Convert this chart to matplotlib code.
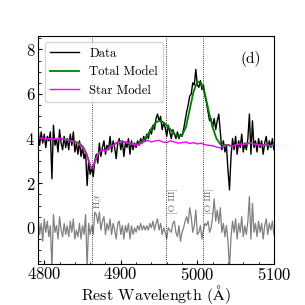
import numpy as np
import matplotlib
matplotlib.use("Agg")
import matplotlib.pyplot as plt
from matplotlib.ticker import AutoMinorLocator, MultipleLocator

plt.rcParams['font.family'] = ['cmr10', 'DejaVu Serif']
plt.rcParams['mathtext.fontset'] = 'cm'
plt.rcParams['axes.formatter.use_mathtext'] = True

# observed spectrum, 2 A grid from 4792 to 5100
wave = np.arange(4792, 5101, 2)
flux = [4.4, 3.7, 4.3, 3.8, 4.2, 3.6, 4.1, 3.9, 4.3, 2.2,
        4.6, 3.7, 4.0, 3.4, 4.4, 3.8, 3.5, 4.1, 3.6, 4.0,
        3.5, 4.2, 3.7, 4.3, 3.4, 3.8, 3.3, 3.9, 3.2, 3.6,
        3.1, 3.4, 1.9, 3.0, 2.4, 2.7, 2.3, 3.0, 3.3, 2.9,
        3.8, 3.2, 3.6, 3.9, 3.3, 3.7, 3.5, 4.1, 3.4, 3.9,
        3.6, 3.1, 3.8, 4.0, 3.5, 3.9, 3.2, 3.8, 3.6, 4.0,
        3.3, 3.9, 3.5, 3.8, 3.6, 3.9, 3.7, 4.0, 3.8, 4.1,
        3.9, 4.2, 4.0, 4.4, 4.2, 4.6, 4.4, 4.9, 5.1, 4.8,
        5.0, 4.4, 4.7, 4.5, 4.1, 4.6, 4.3, 4.0, 4.4, 4.2,
        4.0, 4.3, 4.0, 4.2, 4.1, 4.4, 4.8, 5.2, 5.5, 5.9,
        6.0, 6.5, 6.4, 7.1, 6.4, 6.3, 6.6, 6.2, 6.4, 5.9,
        5.6, 5.2, 4.8, 4.9, 4.5, 4.9, 4.4, 4.8, 5.1, 4.3,
        3.5, 3.9, 3.4, 3.7, 2.6, 1.7, 3.2, 4.0, 3.5, 4.1,
        3.3, 3.9, 3.6, 4.2, 3.4, 3.8, 3.5, 4.0, 5.1, 3.3,
        4.8, 3.6, 3.9, 3.4, 4.0, 3.6, 3.9, 3.3, 3.8, 4.1,
        3.5, 3.9, 3.6, 4.0, 3.5]
resid = [0.5, -0.3, 0.2, -0.6, 0.4, -0.2, 0.3, -0.4, 0.1, -1.8,
         0.6, -0.2, 0.1, -0.5, 0.5, -0.1, -0.4, 0.2, -0.3, 0.1,
         -0.4, 0.3, -0.2, 0.4, -0.5, -0.1, -0.4, 0.2, -0.5, 0.1,
         -0.3, 0.6, -1.8, 0.2, -0.3, 0.1, -0.3, 0.7, 0.6, 0.2,
         0.7, -0.1, 0.3, 0.5, -0.3, 0.2, -0.1, 0.4, -0.3, 0.2,
         -0.1, -0.5, 0.2, 0.3, -0.3, 0.1, -0.5, 0.1, -0.2, 0.2,
         -0.5, 0.1, -0.3, 0.0, -0.2, 0.1, -0.1, 0.2, -0.1, 0.1,
         -0.1, 0.1, -0.1, 0.2, 0.0, 0.3, -0.1, 0.2, 0.4, -0.1,
         0.2, -0.3, 0.0, -0.2, -0.5, 0.0, -0.1, -0.2, 0.2, 0.3,
         -0.2, -0.4, 0.1, -0.6, -0.2, 0.0, 0.3, 0.5, 0.2, 0.9,
         0.5, -0.2, 0.1, 0.8, -0.3, -0.2, 0.1, -0.5, -0.1, 0.2,
         0.1, 0.3, -0.2, 0.0, 0.5, 1.3, 0.3, 0.8, 0.2, 0.9,
         -0.2, 0.2, -0.4, 0.1, -0.6, -1.8, -0.4, 0.3, -0.2, 0.4,
         -0.5, 0.2, -0.2, 0.5, -0.4, 0.1, -0.3, 0.3, 1.4, -0.5,
         1.1, -0.2, 0.2, -0.4, 0.3, -0.2, 0.2, -0.5, 0.1, 0.4,
         -0.3, 0.2, -0.1, 0.3, -0.3]

# model curves
model_wave = [4792, 4800, 4810, 4820, 4830, 4840, 4845, 4850, 4855, 4858,
              4861, 4863, 4866, 4870, 4875, 4880, 4885, 4890, 4895, 4900,
              4905, 4910, 4915, 4920, 4925, 4930, 4935, 4940, 4945, 4950,
              4955, 4960, 4965, 4970, 4975, 4980, 4985, 4990, 4995, 5000,
              5005, 5010, 5015, 5020, 5025, 5030, 5035, 5040, 5045, 5050,
              5055, 5060, 5065, 5070, 5075, 5080, 5085, 5090, 5095, 5100]
star = [4.02, 4.0, 3.98, 4.0, 3.95, 3.85, 3.75, 3.6, 3.3, 3.0,
        2.7, 2.68, 2.95, 3.3, 3.5, 3.45, 3.6, 3.7, 3.82, 3.88,
        3.85, 3.8, 3.75, 3.7, 3.75, 3.85, 3.92, 3.85, 3.9, 3.92,
        3.85, 3.82, 3.9, 3.85, 3.8, 3.82, 3.85, 3.78, 3.82, 3.76,
        3.8, 3.72, 3.7, 3.68, 3.62, 3.58, 3.68, 3.72, 3.65, 3.72,
        3.75, 3.73, 3.78, 3.8, 3.75, 3.72, 3.7, 3.72, 3.68, 3.70]
total = [4.02, 4.0, 3.98, 4.0, 3.95, 3.87, 3.8, 3.66, 3.35, 3.02,
         2.7, 2.68, 2.95, 3.3, 3.5, 3.45, 3.6, 3.7, 3.82, 3.88,
         3.85, 3.8, 3.75, 3.72, 3.8, 3.95, 4.15, 4.45, 4.7, 4.8,
         4.75, 4.6, 4.4, 4.2, 4.1, 4.15, 4.5, 5.3, 6.1, 6.55,
         6.5, 6.0, 5.2, 4.5, 4.0, 3.75, 3.7, 3.72, 3.65, 3.72,
         3.75, 3.73, 3.78, 3.8, 3.75, 3.72, 3.7, 3.72, 3.68, 3.70]

lines = [4862, 4959, 5007]
line_names = [r'H$\beta$', '[O III]', '[O III]']

fig = plt.figure(figsize=(3.05, 3.05), dpi=100)
ax = fig.add_axes([0.125, 0.136, 0.773, 0.746])

ax.plot(wave, flux, color='black', lw=1.0, label='Data')
ax.plot(model_wave, total, color='green', lw=1.3, label='Total Model')
ax.plot(model_wave, star, color='magenta', lw=1.0, label='Star Model')
ax.plot(wave, resid, color='grey', lw=0.9)

for w, name in zip(lines, line_names):
    ax.axvline(w, color='black', ls=':', lw=0.6)
    ax.text(w + 9, 1.2, name, rotation=90, fontsize=7, color='dimgray',
            ha='center', va='center')

ax.text(0.9, 0.9, '(d)', transform=ax.transAxes, fontsize=11,
        ha='center', va='center')

ax.set_xlim(4792, 5100)
ax.set_ylim(-1.6, 8.6)
ax.xaxis.set_major_locator(MultipleLocator(100))
ax.xaxis.set_minor_locator(AutoMinorLocator(5))
ax.yaxis.set_major_locator(MultipleLocator(2))
ax.yaxis.set_minor_locator(AutoMinorLocator(4))
ax.tick_params(which='both', direction='in', labelsize=12, pad=2)
ax.tick_params(which='major', length=3)
ax.tick_params(which='minor', length=1.8)
ax.set_xlabel(r'Rest Wavelength ($\mathrm{\AA}$)', fontsize=11.5, labelpad=-0.5)
ax.legend(loc='upper left', fontsize=9.2, handlelength=2.3,
          borderaxespad=0.5)

fig.savefig('out.png', dpi=100)
